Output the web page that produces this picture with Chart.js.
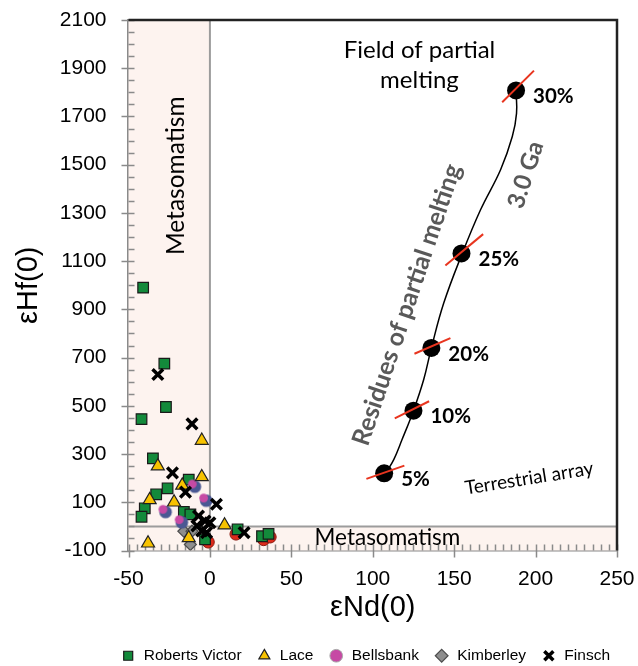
<!DOCTYPE html>
<html><head><meta charset="utf-8">
<script src="https://cdn.jsdelivr.net/npm/chart.js@4.4.1/dist/chart.umd.min.js"></script>
<style>html,body{margin:0;padding:0;background:#fff;overflow:hidden;}</style>
</head><body>
<canvas id="c" width="638" height="666"></canvas>
<script>
// ---------- data ----------
const xTickValues = [-50, 0, 50, 100, 150, 200, 250];
const yTickValues = [-100, 100, 300, 500, 700, 900, 1100, 1300, 1500, 1700, 1900, 2100];

const robertsVictorX = [-41, -28, -27, -42, -35, -13, -26, -33, -40, -42, -16, -12, 17, -3, 32, 36];
const robertsVictorY = [990, 675, 495, 445, 282, 194, 158, 133, 75, 40, 60, 50, -12, -54, -41, -31];

const laceX = [-5, -32, -5, -17, -37, -22, 9, -13, -38];
const laceY = [356, 250, 205, 170, 110, 100, 5, -48, -70];

const bellsbankX = [-10, -3, -28, -18];
const bellsbankY = [170, 112, 65, 22];

const kimberleyX = [-16, -11, -12];
const kimberleyY = [-20, -20, -75];

const finschX = [-32, -11, -23, -15, 4, -7, -3, 0, -8, -5, -2, 21];
const finschY = [630, 425, 222, 142, 92, 43, 22, 15, 2, -19, -26, -26];

const otherX = [-1, 16, 33, 37];
const otherY = [-65, -32, -55, -44];

// partial melting model (3.0 Ga)
const meltLabels = ['5%', '10%', '20%', '25%', '30%'];
const meltX = [107, 125, 136, 154.5, 188];
const meltY = [220, 480, 740, 1132, 1808];

const curveX = [107.7, 112.9, 118.0, 125, 131.3, 136, 143.6, 154.9, 166.2, 178.5, 185.7, 188.3, 188];
const curveY = [218, 277, 360, 480, 609, 740, 926, 1131, 1313, 1479, 1617, 1713, 1808];

// short red bars crossing each model point: [x1, x2], [y1, y2]
const barX = [[96.1, 119.4], [113.5, 134.6], [125.6, 147.7], [144.6, 167.8], [179.5, 199]];
const barY = [[197, 252], [448, 519], [716, 781], [1082, 1212], [1759, 1890]];

const seriesNames = ['Roberts Victor', 'Lace', 'Bellsbank', 'Kimberley', 'Finsch'];
const axisTitleX = 'εNd(0)';
const axisTitleY = 'εHf(0)';

// ---------- helpers ----------
const pts = (xs, ys) => xs.map((x, i) => ({x: x, y: ys[i]}));

function bellsMarker() {
  const c = document.createElement('canvas');
  c.width = 18; c.height = 18;
  const g = c.getContext('2d');
  g.fillStyle = '#4a5893';
  g.beginPath(); g.arc(10.2, 10.2, 6.3, 0, Math.PI * 2); g.fill();
  g.fillStyle = '#c64aa4';
  g.beginPath(); g.arc(7.6, 7.6, 4.4, 0, Math.PI * 2); g.fill();
  return c;
}

const annotations = [
  {text: 'Field of partial', x: 128.7, y: 1976, font: '24px Lato', color: '#000', angle: 0},
  {text: 'melting', x: 128.7, y: 1851, font: '24px Lato', color: '#000', angle: 0},
  {text: 'Metasomatism', x: -21, y: 1454, font: '24.5px Lato', color: '#000', angle: -90},
  {text: 'Metasomatism', x: 109, y: -46, font: '22.5px Lato', color: '#000', angle: 0},
  {text: 'Residues of partial melting', x: 121, y: 919, font: 'bold 25px Lato', color: '#595959', angle: -71.5},
  {text: '3.0 Ga', x: 194, y: 1458, font: 'bold 24px Lato', color: '#595959', angle: -72},
  {text: 'Terrestrial array', x: 196, y: 199, font: '19px Lato', color: '#000', angle: -9}
];

const decor = {
  id: 'decor',
  afterLayout(chart) {
    const lg = chart.legend;
    if (lg) {
      const h = lg.bottom - lg.top, w = lg.right - lg.left;
      lg.top = 633; lg.bottom = 633 + h;
      lg.right = 625; lg.left = 625 - w;
    }
  },
  beforeDatasetsDraw(chart) {
    const {ctx, chartArea: a, scales: {x, y}} = chart;
    ctx.save();
    ctx.fillStyle = '#fdf3ef';
    const x0 = x.getPixelForValue(0), y0 = y.getPixelForValue(0);
    ctx.fillRect(a.left, a.top, x0 - a.left, a.bottom - a.top);
    ctx.fillRect(x0, y0, a.right - x0, a.bottom - y0);
    ctx.strokeStyle = '#9c9c9c';
    ctx.lineWidth = 2;
    ctx.beginPath();
    ctx.moveTo(x0, a.top); ctx.lineTo(x0, a.bottom);
    ctx.moveTo(a.left, y0); ctx.lineTo(a.right, y0);
    ctx.stroke();
    // minor / major ticks
    ctx.strokeStyle = '#8a8a8a';
    ctx.lineWidth = 1.5;
    ctx.beginPath();
    for (let v = -50; v <= 250; v += 5) {
      const px = Math.round(x.getPixelForValue(v)) + 0.5;
      const major = v % 50 === 0;
      ctx.moveTo(px, a.bottom + (major ? 7 : 0));
      ctx.lineTo(px, a.bottom - 6);
    }
    for (let v = -100; v <= 2100; v += 50) {
      const py = Math.round(y.getPixelForValue(v)) + 0.5;
      const major = (v + 100) % 200 === 0;
      ctx.moveTo(a.left - (major ? 7 : 0), py);
      ctx.lineTo(a.left + 6, py);
    }
    ctx.stroke();
    ctx.restore();
  },
  afterDraw(chart) {
    const {ctx, chartArea: a, scales: {x, y}} = chart;
    ctx.save();
    // frame top/right
    ctx.strokeStyle = '#222';
    ctx.lineWidth = 2.5;
    ctx.beginPath();
    ctx.moveTo(a.left, a.top); ctx.lineTo(a.right, a.top); ctx.lineTo(a.right, a.bottom);
    ctx.stroke();
    // annotations
    ctx.textAlign = 'center';
    ctx.textBaseline = 'middle';
    annotations.forEach(t => {
      ctx.save();
      ctx.translate(x.getPixelForValue(t.x), y.getPixelForValue(t.y));
      ctx.rotate(t.angle * Math.PI / 180);
      ctx.font = t.font;
      ctx.fillStyle = t.color;
      ctx.fillText(t.text, 0, 0);
      ctx.restore();
    });
    // percentage labels
    ctx.textAlign = 'left';
    ctx.font = 'bold 20.5px Lato';
    ctx.fillStyle = '#000';
    meltLabels.forEach((lab, i) => {
      ctx.fillText(lab, x.getPixelForValue(meltX[i]) + 17, y.getPixelForValue(meltY[i]) + 6);
    });
    ctx.restore();
  }
};

const datasets = [
  {label: seriesNames[0], data: pts(robertsVictorX, robertsVictorY), pointStyle: 'rect', pointRadius: 7.5,
   backgroundColor: '#138a3b', borderColor: '#1a1a1a', borderWidth: 1.2, order: 4},
  {label: seriesNames[1], data: pts(laceX, laceY), pointStyle: 'triangle', pointRadius: 7.5,
   backgroundColor: '#f7c200', borderColor: '#222', borderWidth: 1.2, order: 2},
  {label: seriesNames[2], data: pts(bellsbankX, bellsbankY), pointStyle: bellsMarker(), pointRadius: 7,
   backgroundColor: '#c64aa4', borderColor: '#999', borderWidth: 1, order: 3},
  {label: seriesNames[3], data: pts(kimberleyX, kimberleyY), pointStyle: 'rectRot', pointRadius: 6,
   backgroundColor: '#8e8e8e', borderColor: '#4d4d4d', borderWidth: 1.2, order: 5},
  {label: seriesNames[4], data: pts(finschX, finschY), pointStyle: 'crossRot', pointRadius: 7.5,
   backgroundColor: '#000', borderColor: '#000', borderWidth: 3.5, order: 1},
  {label: 'other', legend: false, data: pts(otherX, otherY), pointStyle: 'circle', pointRadius: 6,
   backgroundColor: '#dd2a1b', borderColor: '#8b1a10', borderWidth: 1, order: 6},
  {label: 'curve', legend: false, data: pts(curveX, curveY), showLine: true, tension: 0.4, pointRadius: 0,
   borderColor: '#000', borderWidth: 1.5, order: 12},
  {label: 'model', legend: false, data: pts(meltX, meltY), pointStyle: 'circle', pointRadius: 9,
   backgroundColor: '#000', borderColor: '#000', borderWidth: 0, order: 11}
];
barX.forEach((bx, i) => {
  datasets.push({label: 'bar' + i, legend: false, data: pts(bx, barY[i]), showLine: true, pointRadius: 0,
    borderColor: '#e8351f', borderWidth: 2, order: 10});
});

Chart.defaults.font.family = 'Liberation Sans';

const pad = {top: 20, right: 21, left: 0, bottom: 0};

const chart = new Chart(document.getElementById('c'), {
  type: 'scatter',
  data: {datasets: datasets},
  options: {
    responsive: false,
    animation: false,
    events: [],
    layout: {padding: Object.assign({}, pad)},
    scales: {
      x: {
        type: 'linear', min: -50, max: 250,
        afterBuildTicks: s => { s.ticks = xTickValues.map(v => ({value: v})); },
        afterFit: s => { s.height = 80; },
        grid: {display: true, drawOnChartArea: false, drawTicks: true, tickLength: 16, tickColor: 'rgba(0,0,0,0)'},
        border: {display: true, color: '#8a8a8a', width: 2.5},
        ticks: {font: {size: 21}, color: '#000', padding: 0, callback: v => String(v)},
        title: {display: true, text: axisTitleX, font: {size: 29}, color: '#000', padding: {top: 0, bottom: 5.5}}
      },
      y: {
        type: 'linear', min: -100, max: 2100,
        afterBuildTicks: s => { s.ticks = yTickValues.map(v => ({value: v})); },
        afterFit: s => { s.width = 128.5; },
        grid: {display: true, drawOnChartArea: false, drawTicks: true, tickLength: 22, tickColor: 'rgba(0,0,0,0)'},
        border: {display: true, color: '#8a8a8a', width: 2.5},
        ticks: {font: {size: 21}, color: '#000', padding: 0, callback: v => String(v)},
        title: {display: true, text: axisTitleY, font: {size: 29}, color: '#000', padding: {top: 12, bottom: 0}}
      }
    },
    plugins: {
      tooltip: {enabled: false},
      legend: {
        position: 'bottom', align: 'end',
        labels: {
          usePointStyle: true, boxHeight: 9, padding: 15,
          font: {size: 15.5}, color: '#000',
          filter: (item, data) => data.datasets[item.datasetIndex].legend !== false,
          sort: (a, b) => a.datasetIndex - b.datasetIndex,
          generateLabels: chart => {
            const items = Chart.defaults.plugins.legend.labels.generateLabels(chart);
            items.forEach(it => {
              if (it.datasetIndex === 2) { it.pointStyle = 'circle'; it.fillStyle = '#c64aa4'; it.strokeStyle = '#aaa'; it.lineWidth = 1; }
            });
            return items;
          }
        }
      }
    }
  },
  plugins: [decor]
});

// pin the plot area to the reference frame
const target = {left: 128.5, top: 20, right: 617, bottom: 550.5};
for (let i = 0; i < 4; i++) {
  const a = chart.chartArea;
  if (Math.abs(a.top - target.top) < 0.3 && Math.abs(a.right - target.right) < 0.3 &&
      Math.abs(a.bottom - target.bottom) < 0.3 && Math.abs(a.left - target.left) < 0.3) break;
  pad.top += target.top - a.top;
  pad.left += target.left - a.left;
  pad.right += a.right - target.right;
  pad.bottom += a.bottom - target.bottom;
  chart.options.layout.padding = Object.assign({}, pad);
  chart.update();
}
</script>
</body></html>
